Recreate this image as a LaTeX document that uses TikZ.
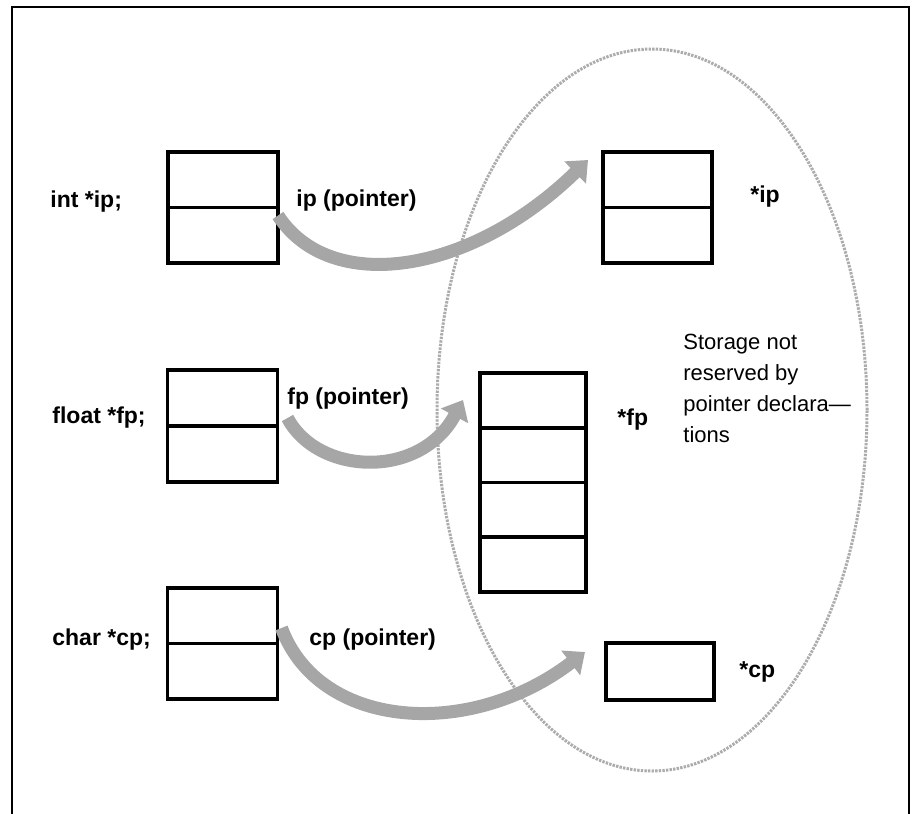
\documentclass[tikz,border=0pt]{standalone}
\usepackage{fontspec}
\setmainfont{Liberation Sans}
\usetikzlibrary{arrows.meta,shapes.geometric,calc}

\begin{document}
\begin{tikzpicture}[x=0.5pt,y=-0.5pt,
  cell/.style={draw,line width=1.8pt,inner sep=0pt,outer sep=0pt,minimum width=55pt},
  divider/.style={line width=1.8pt},
  decl/.style={anchor=base west,inner sep=0pt,font=\fontsize{11.5}{14}\selectfont\bfseries},
  ptr/.style={line width=6.5pt,draw=gray!70,-{Triangle[width=15pt,length=9pt]}}]
\useasboundingbox (0,0) rectangle (916,814);
\draw [line width=1.4pt] (12,814) -- (12,7) -- (909,7) -- (909,814);

\node [ellipse,draw=gray!65,line width=1.5pt,dash pattern=on 1.2pt off 0.6pt,
  minimum width=215pt,minimum height=361pt,inner sep=0pt] (storage) at (652,410) {};

\node [cell,minimum height=55.5pt] (ipbox) at (223,207.5) {};
\draw [divider] (ipbox.west) -- (ipbox.east);
\node [cell,minimum height=56pt] (fpbox) at (222.5,426) {};
\draw [divider] (fpbox.west) -- (fpbox.east);
\node [cell,minimum height=55.5pt] (cpbox) at (222.5,643.5) {};
\draw [divider] (cpbox.west) -- (cpbox.east);

\node [cell,minimum width=54.5pt,minimum height=55.5pt] (ipcell) at (657.5,207.5) {};
\draw [divider] (ipcell.west) -- (ipcell.east);
\node [cell,minimum width=53pt,minimum height=109.5pt] (fpcell) at (533,482.5) {};
\foreach \k in {1,2,3}
  \draw [divider] ($(fpcell.north west)!\k/4!(fpcell.south west)$) -- ($(fpcell.north east)!\k/4!(fpcell.south east)$);
\node [cell,minimum width=54pt,minimum height=28.5pt] (cpcell) at (660,671.5) {};

\node [decl] (ipdecl) at (50,207) {int *ip;};
\node [decl] (fpdecl) at (52,423) {float *fp;};
\node [decl] (cpdecl) at (52,645) {char *cp;};
\node [decl] (ipname) at (296,206) {ip (pointer)};
\node [decl] (fpname) at (287,404) {fp (pointer)};
\node [decl] (cpname) at (309,645) {cp (pointer)};
\node [decl] (ipval) at (750,202) {*ip};
\node [decl] (fpval) at (617,425) {*fp};
\node [decl] (cpval) at (739,677) {*cp};

\node [anchor=north west,inner sep=0pt,align=left,font=\fontsize{11}{15.5}\selectfont] (note) at (683,334)
  {Storage not\\reserved by\\pointer declara—\\tions};

\coordinate (iptip) at (588,160);
\coordinate (fptip) at (463,400);
\coordinate (cptip) at (585,652);
\draw [ptr] ([yshift=-4pt]ipbox.east) .. controls +(52,80) and +(-118,115) .. (iptip);
\draw [ptr] ([xshift=5pt,yshift=4pt]fpbox.east) .. controls +(30,57) and +(-43,80) .. (fptip);
\draw [ptr] ([xshift=2pt,yshift=7.75pt]cpbox.east) .. controls +(38,102) and +(-115,88) .. (cptip);
\end{tikzpicture}
\end{document}
